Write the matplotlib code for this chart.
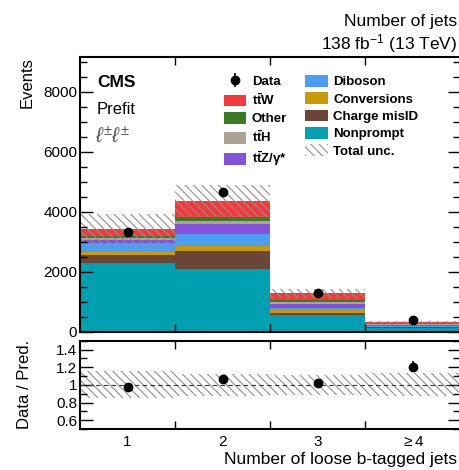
import numpy as np
import matplotlib
matplotlib.use("Agg")
import matplotlib.pyplot as plt
from matplotlib.patches import Patch
from matplotlib.ticker import MultipleLocator, FormatStrFormatter

plt.rcParams['font.family'] = ['Liberation Sans', 'DejaVu Sans']
plt.rcParams['mathtext.fontset'] = 'custom'
plt.rcParams['mathtext.rm'] = 'Liberation Sans'
plt.rcParams['mathtext.it'] = 'Liberation Sans:italic'
plt.rcParams['mathtext.bf'] = 'Liberation Sans:bold'
plt.rcParams['hatch.linewidth'] = 0.8

# bins: number of loose b-tagged jets
bin_labels = ['1', '2', '3', r'$\geq$4']
x = np.array([1, 2, 3, 4])

# prefit yields per process, stacked bottom -> top
nonprompt = [2273, 2073, 550, 130]
charge_misid = [277, 610, 77, 15]
conversions = [110, 177, 90, 15]
diboson = [280, 390, 56, 20]
ttz = [110, 323, 144, 40]
tth = [57, 120, 76, 20]
other = [76, 134, 57, 15]
ttw = [224, 523, 223, 55]

total_unc = [520, 540, 140, 40]
data = [3327, 4660, 1293, 373]

stack = [
    ('Nonprompt', nonprompt, '#00a0b0'),
    ('Charge misID', charge_misid, '#6b4535'),
    ('Conversions', conversions, '#c99a06'),
    ('Diboson', diboson, '#4b9ef2'),
    (r'$\mathbf{t\bar{t}Z}$/γ*', ttz, '#8452d9'),
    (r'$\mathbf{t\bar{t}H}$', tth, '#aba394'),
    ('Other', other, '#3c7a24'),
    (r'$\mathbf{t\bar{t}W}$', ttw, '#f4393c'),
]

W, H = 459, 470
fig = plt.figure(figsize=(W / 100, H / 100), dpi=100)
ax = fig.add_axes([80 / W, 1 - 331.5 / H, 380 / W, 274.5 / H])
rax = fig.add_axes([80 / W, 1 - 429 / H, 380 / W, 88.3 / H])

hatch = '\\\\\\\\'
hatch_col = '#8f8f8f'
handles = {}
bottom = np.zeros(len(x))
for name, vals, col in stack:
    vals = np.array(vals, dtype=float)
    handles[name] = ax.bar(x, vals, width=1.0, bottom=bottom, color=col, linewidth=0)
    bottom += vals
total = bottom
unc = np.array(total_unc, dtype=float)

ax.bar(x, 2 * unc, width=1.0, bottom=total - unc, fill=False, hatch=hatch,
       edgecolor=hatch_col, linewidth=0)

data = np.array(data, dtype=float)
derr = np.sqrt(data)
dat = ax.errorbar(x, data, yerr=derr, fmt='o', color='black', markersize=6,
                  elinewidth=1.2, capsize=0, zorder=5)

ax.set_xlim(0.5, 4.5)
ax.set_ylim(0, 9150)
ax.yaxis.set_major_locator(MultipleLocator(2000))
ax.yaxis.set_minor_locator(MultipleLocator(500))
ax.set_xticks([1.5, 2.5, 3.5])
ax.set_xticklabels([])

# ratio panel
ratio = data / total
ratio_err = derr / total
rel = unc / total
rax.bar(x, 2 * rel, width=1.0, bottom=1 - rel, fill=False, hatch=hatch,
        edgecolor=hatch_col, linewidth=0)
rax.axhline(1.0, color='#333333', linestyle=(0, (4, 3)), linewidth=0.8)
rax.errorbar(x, ratio, yerr=ratio_err, fmt='o', color='black', markersize=6,
             elinewidth=1.2, capsize=0, zorder=5)
rax.set_xlim(0.5, 4.5)
rax.set_ylim(0.5, 1.5)
rax.set_yticks([0.6, 0.8, 1.0, 1.2, 1.4])
rax.yaxis.set_major_formatter(FormatStrFormatter('%g'))
rax.yaxis.set_minor_locator(MultipleLocator(0.1))
rax.set_xticks([1.5, 2.5, 3.5])
rax.set_xticklabels([])
rax.set_xticks(x, minor=True)
rax.set_xticklabels(bin_labels, minor=True)

for a in (ax, rax):
    for s in a.spines.values():
        s.set_linewidth(1.5)
    a.tick_params(which='both', direction='in', top=True, right=True,
                  labelsize=11, width=1.0)
    a.tick_params(which='major', length=9)
    a.tick_params(which='minor', length=5)
    a.tick_params(axis='x', which='major', length=6)
rax.tick_params(axis='x', which='minor', length=0, pad=4)
ax.tick_params(axis='y', pad=2)
rax.tick_params(axis='y', pad=2)

# labels
ax.text(0.045, 0.935, 'CMS', transform=ax.transAxes, fontsize=12.5,
        fontweight='bold', va='top', ha='left')
ax.text(0.045, 0.835, 'Prefit', transform=ax.transAxes, fontsize=12,
        va='top', ha='left')
ax.text(0.04, 0.748, r'$\ell^{\pm}\ell^{\pm}$', transform=ax.transAxes,
        fontsize=15, color='#555555', va='top', ha='left')

names = [h for h, _, _ in stack]
leg_handles = [dat, handles[names[7]], handles[names[6]], handles[names[5]],
               handles[names[4]], handles[names[3]], handles[names[2]],
               handles[names[1]], handles[names[0]],
               Patch(facecolor='none', edgecolor=hatch_col, hatch=hatch, linewidth=0)]
leg_labels = ['Data', names[7], 'Other', names[5], names[4], 'Diboson',
              'Conversions', 'Charge misID', 'Nonprompt', 'Total unc.']
ax.legend(leg_handles, leg_labels, ncol=2, loc='upper left',
          bbox_to_anchor=(0.379, 0.935), frameon=False, borderpad=0,
          borderaxespad=0, handlelength=1.7, handleheight=1.0,
          handletextpad=0.4, labelspacing=0.3, columnspacing=1.4,
          prop={'size': 9.5, 'weight': 'bold'})

fig.text(27 / W, 1 - 57 / H, 'Events', rotation=90, ha='center', va='top',
         fontsize=12)
fig.text(25 / W, 1 - 384 / H, 'Data / Pred.', rotation=90, ha='center',
         va='center', fontsize=12)
fig.text(457 / W, 1 - 467 / H, 'Number of loose b-tagged jets', ha='right',
         va='bottom', fontsize=12.5)
fig.text(457 / W, 1 - 26 / H, 'Number of jets', ha='right', va='baseline',
         fontsize=12.5)
fig.text(457 / W, 1 - 49.5 / H, r'138 fb$^{-1}$ (13 TeV)', ha='right',
         va='baseline', fontsize=12.5)

fig.savefig('out.png', dpi=100)
